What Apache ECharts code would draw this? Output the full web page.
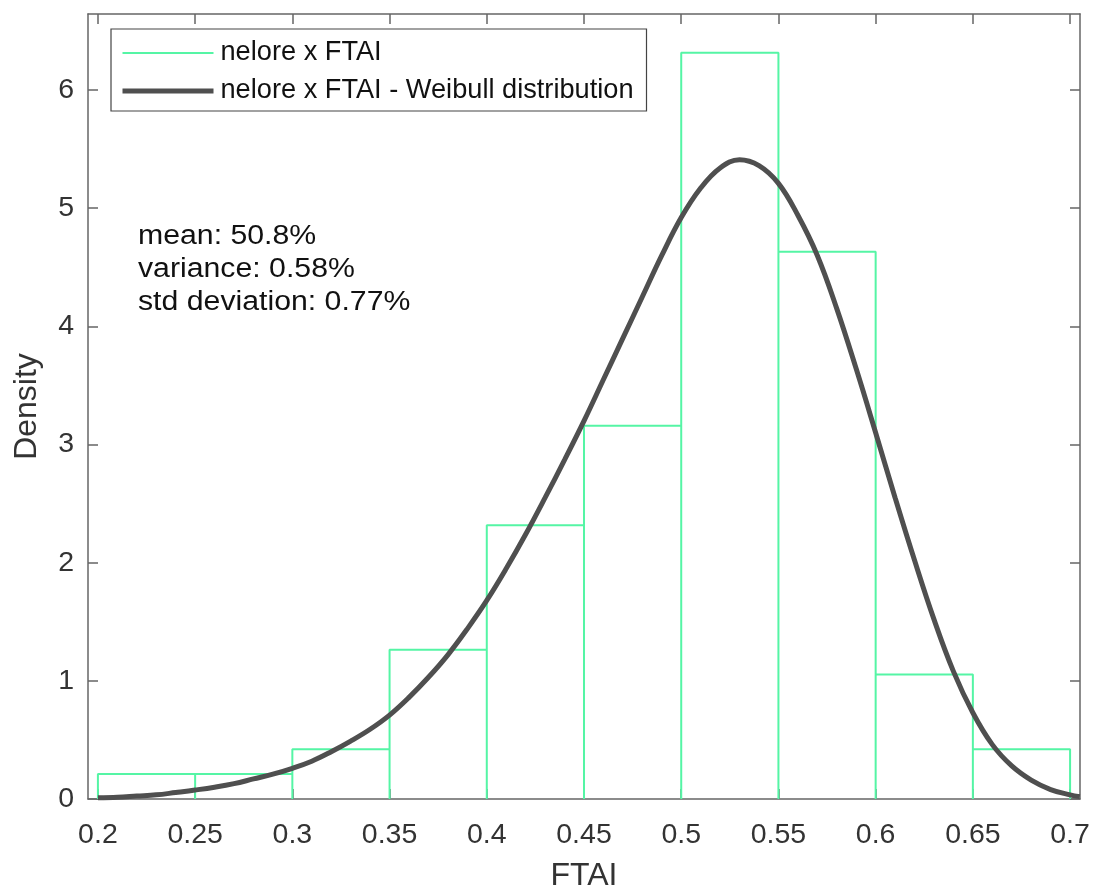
<!DOCTYPE html>
<html>
<head>
<meta charset="utf-8">
<script src="https://cdn.jsdelivr.net/npm/echarts@6/dist/echarts.min.js"></script>
<style>
html,body{margin:0;padding:0;background:#fff;}
#chart{width:1093px;height:889px;}
</style>
</head>
<body>
<div id="chart"></div>
<script>
// ---- data ----
const binEdges = [0.2, 0.25, 0.3, 0.35, 0.4, 0.45, 0.5, 0.55, 0.6, 0.65, 0.7];
const binDensity = [0.211, 0.211, 0.421, 1.263, 2.316, 3.158, 6.316, 4.632, 1.053, 0.421];
const curveX = [0.20,0.21,0.22,0.23,0.24,0.25,0.26,0.27,0.28,0.29,0.30,0.31,0.32,0.33,0.34,0.35,0.36,0.37,0.38,0.39,0.40,0.41,0.42,0.43,0.44,0.45,0.46,0.47,0.48,0.49,0.50,0.51,0.52,0.53,0.54,0.55,0.56,0.57,0.58,0.59,0.60,0.61,0.62,0.63,0.64,0.65,0.66,0.67,0.68,0.69,0.70,0.705];
const curveY = [0.01,0.015,0.025,0.035,0.055,0.076,0.10,0.13,0.17,0.21,0.26,0.32,0.40,0.49,0.59,0.71,0.86,1.03,1.22,1.44,1.68,1.95,2.24,2.55,2.87,3.20,3.55,3.90,4.25,4.60,4.92,5.17,5.34,5.41,5.36,5.21,4.94,4.60,4.15,3.64,3.10,2.55,2.02,1.52,1.08,0.73,0.46,0.28,0.16,0.08,0.035,0.02];
const xTicks = [0.2, 0.25, 0.3, 0.35, 0.4, 0.45, 0.5, 0.55, 0.6, 0.65, 0.7];
const yTicks = [0, 1, 2, 3, 4, 5, 6];
const seriesNames = ['nelore x FTAI', 'nelore x FTAI - Weibull distribution'];
const statsLines = ['mean: 50.8%', 'variance: 0.58%', 'std deviation: 0.77%'];
const xName = 'FTAI';
const yName = 'Density';

// histogram outline path built from the bins
const histPath = [];
for (let i = 0; i < binDensity.length; i++) {
  histPath.push([binEdges[i], 0]);
  histPath.push([binEdges[i], binDensity[i]]);
  histPath.push([binEdges[i + 1], binDensity[i]]);
  histPath.push([binEdges[i + 1], 0]);
}
const curveData = curveX.map((x, i) => [x, curveY[i]]);

const FONT = '"Liberation Sans", Arial, sans-serif';
const AX = '#666';
const LBL = '#333';
const GREEN = '#55f5a5';
const DARK = '#4f4f4f';

const chart = echarts.init(document.getElementById('chart'), null, {renderer: 'canvas'});
const xMin = 0.1949, xMax = 0.7051, yMax = 6.643;

chart.setOption({
  backgroundColor: '#fff',
  animation: false,
  grid: {left: 88, right: 13, top: 14, bottom: 90, containLabel: false, outerBoundsMode: 'none'},
  xAxis: [{
    type: 'value', min: xMin, max: xMax, position: 'bottom',
    name: xName, nameLocation: 'middle', nameGap: 61,
    nameTextStyle: {fontFamily: FONT, fontSize: 32, color: LBL},
    axisLine: {show: true, onZero: false, lineStyle: {color: AX, width: 1.5}},
    axisTick: {show: true, inside: true, length: 10, customValues: xTicks, lineStyle: {color: AX, width: 1.5}},
    axisLabel: {show: true, customValues: xTicks, margin: 22, fontFamily: FONT, fontSize: 28.5, color: LBL,
      showMinLabel: true, showMaxLabel: true},
    splitLine: {show: false}
  }, {
    type: 'value', min: xMin, max: xMax, position: 'top',
    axisLine: {show: true, onZero: false, lineStyle: {color: AX, width: 1.5}},
    axisTick: {show: true, inside: true, length: 10, customValues: xTicks, lineStyle: {color: AX, width: 1.5}},
    axisLabel: {show: false},
    splitLine: {show: false}
  }],
  yAxis: [{
    type: 'value', min: 0, max: yMax, position: 'left',
    name: yName, nameLocation: 'middle', nameGap: 45, nameRotate: 90,
    nameTextStyle: {fontFamily: FONT, fontSize: 32, color: LBL},
    axisLine: {show: true, onZero: false, lineStyle: {color: AX, width: 1.5}},
    axisTick: {show: true, inside: true, length: 10, customValues: yTicks, lineStyle: {color: AX, width: 1.5}},
    axisLabel: {show: true, customValues: yTicks, margin: 14, fontFamily: FONT, fontSize: 28.5, color: LBL},
    splitLine: {show: false}
  }, {
    type: 'value', min: 0, max: yMax, position: 'right',
    axisLine: {show: true, onZero: false, lineStyle: {color: AX, width: 1.5}},
    axisTick: {show: true, inside: true, length: 10, customValues: yTicks, lineStyle: {color: AX, width: 1.5}},
    axisLabel: {show: false},
    splitLine: {show: false}
  }],
  legend: {
    orient: 'vertical', left: 111, top: 29,
    padding: [8, 13, 4, 9],
    itemWidth: 91, itemHeight: 14, itemGap: 6,
    borderColor: '#444', borderWidth: 1.2, backgroundColor: '#fff',
    textStyle: {fontFamily: FONT, fontSize: 27.2, color: '#111', lineHeight: 32, padding: [0, 0, 0, 2]},
    data: [
      {name: seriesNames[0], itemStyle: {opacity: 0}, lineStyle: {width: 2, color: GREEN}},
      {name: seriesNames[1], itemStyle: {opacity: 0}, lineStyle: {width: 5, color: DARK}}
    ]
  },
  graphic: [{
    type: 'text', left: 138, top: 220, z: 100,
    scaleX: 1.12,
    style: {text: statsLines.join('\n'), fontFamily: FONT, fontSize: 27, lineHeight: 33, fill: '#111'}
  }],
  series: [{
    name: seriesNames[0], type: 'line', data: histPath, symbol: 'none', showSymbol: false,
    lineStyle: {color: GREEN, width: 2}, itemStyle: {color: GREEN}, z: 2
  }, {
    name: seriesNames[1], type: 'line', data: curveData, symbol: 'none', showSymbol: false, smooth: 0.4,
    lineStyle: {color: DARK, width: 5}, itemStyle: {color: DARK}, z: 3
  }]
});
</script>
</body>
</html>
